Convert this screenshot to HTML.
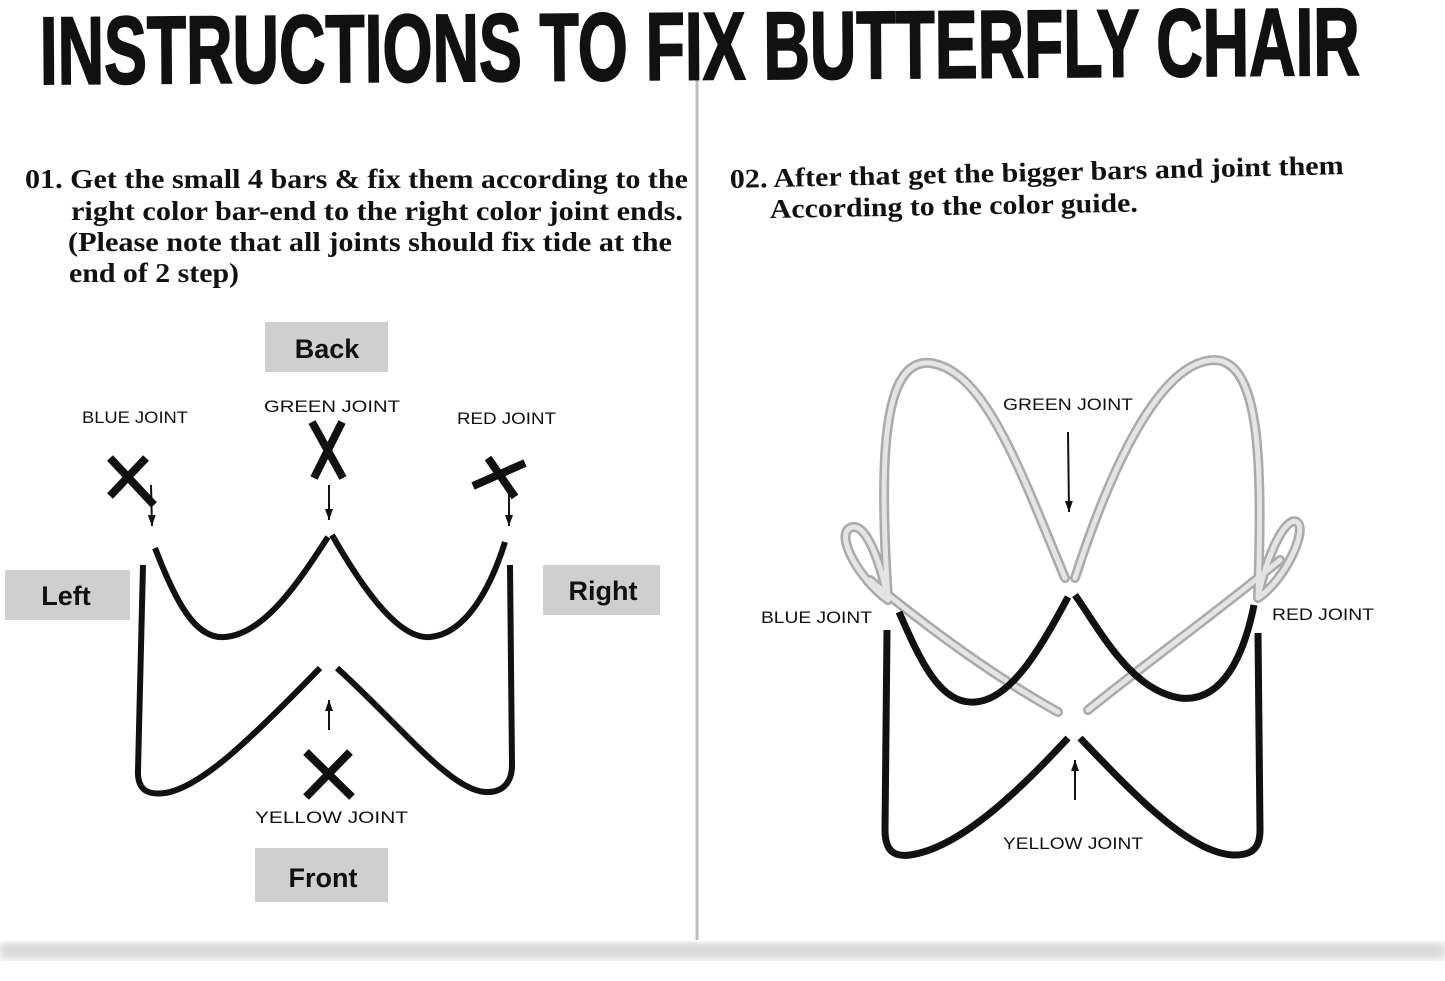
<!DOCTYPE html>
<html><head><meta charset="utf-8"><style>
html,body{margin:0;padding:0;background:#fff;}
svg{display:block;}
.t{font-family:"Liberation Serif",serif;font-weight:bold;font-size:27px;fill:#111;}
.j{font-family:"Liberation Sans",sans-serif;font-size:17px;fill:#111;}
.b{font-family:"Liberation Sans",sans-serif;font-weight:bold;font-size:27px;fill:#111;}
</style></head><body>
<svg width="1445" height="981" viewBox="0 0 1445 981" xmlns="http://www.w3.org/2000/svg">
<defs>
<marker id="ah" markerWidth="12" markerHeight="10" refX="11" refY="4" orient="auto" markerUnits="userSpaceOnUse"><path d="M0,0 L11,4 L0,8 Z" fill="#111"/></marker>
<filter id="bl"><feGaussianBlur stdDeviation="4"/></filter>
</defs>
<rect width="1445" height="981" fill="#fff"/>
<line x1="697" y1="60" x2="697" y2="940" stroke="#bbb" stroke-width="3"/>
<g transform="translate(40,84) rotate(-0.4)">
<text x="0" y="0" font-family="Liberation Sans Narrow, Liberation Sans, sans-serif" font-weight="bold" font-size="96" textLength="1320" lengthAdjust="spacingAndGlyphs" fill="#111" stroke="#111" stroke-width="2">INSTRUCTIONS TO FIX BUTTERFLY CHAIR</text>
</g>
<text class="t" x="25" y="188" textLength="663" lengthAdjust="spacingAndGlyphs">01. Get the small 4 bars &amp; fix them according to the</text>
<text class="t" x="71" y="220" textLength="612" lengthAdjust="spacingAndGlyphs">right color bar-end to the right color joint ends.</text>
<text class="t" x="68" y="251" textLength="604" lengthAdjust="spacingAndGlyphs">(Please note that all joints should fix tide at the</text>
<text class="t" x="69" y="282" textLength="170" lengthAdjust="spacingAndGlyphs">end of 2 step)</text>
<g transform="rotate(-1.3 730 188)">
<text class="t" x="730" y="188" textLength="614" lengthAdjust="spacingAndGlyphs">02. After that get the bigger bars and joint them</text>
</g>
<g transform="rotate(-1 770 218)">
<text class="t" x="770" y="218" textLength="368" lengthAdjust="spacingAndGlyphs">According to the color guide.</text>
</g>

<rect x="265" y="322" width="123" height="50" fill="#cfcfcf"/>
<text class="b" x="327" y="358" text-anchor="middle">Back</text>
<rect x="5" y="570" width="125" height="50" fill="#cfcfcf"/>
<text class="b" x="66" y="605" text-anchor="middle">Left</text>
<rect x="543" y="565" width="117" height="50" fill="#cfcfcf"/>
<text class="b" x="603" y="600" text-anchor="middle">Right</text>
<rect x="255" y="848" width="133" height="54" fill="#cfcfcf"/>
<text class="b" x="323" y="887" text-anchor="middle">Front</text>

<text class="j" x="82" y="423" textLength="106" lengthAdjust="spacingAndGlyphs">BLUE JOINT</text>
<text class="j" x="264" y="412" textLength="136" lengthAdjust="spacingAndGlyphs">GREEN  JOINT</text>
<text class="j" x="457" y="424" textLength="99" lengthAdjust="spacingAndGlyphs">RED JOINT</text>
<text class="j" x="255" y="823" textLength="153" lengthAdjust="spacingAndGlyphs">YELLOW  JOINT</text>

<g stroke="#111" stroke-width="8" fill="none">
<path d="M110,458 L154,505 M110,496 L146,458"/>
<path d="M312,422 L343,478 M314,478 L342,422"/>
<path d="M473,486 L525,463 M488,458 L515,497"/>
<path d="M306,752 L352,797 M306,797 L350,752"/>
</g>
<g stroke="#111" stroke-width="2">
<line x1="151" y1="485" x2="152" y2="526" marker-end="url(#ah)"/>
<line x1="329" y1="485" x2="329" y2="520" marker-end="url(#ah)"/>
<line x1="509" y1="485" x2="509" y2="526" marker-end="url(#ah)"/>
<line x1="329" y1="730" x2="329" y2="700" marker-end="url(#ah)"/>
</g>
<g stroke="#111" stroke-width="6" fill="none">
<path d="M155,548 C175,600 195,640 225,637 C265,634 300,580 328,537"/>
<path d="M332,535 C355,575 395,640 430,637 C465,634 490,590 505,542"/>
<path d="M143,565 L138,770 C137,792 150,795 165,793 C200,788 250,740 320,668"/>
<path d="M337,668 C400,725 450,790 485,792 C505,793 512,780 512,765 L510,565"/>
</g>

<text class="j" x="1003" y="410" textLength="130" lengthAdjust="spacingAndGlyphs">GREEN  JOINT</text>
<text class="j" x="761" y="623" textLength="111" lengthAdjust="spacingAndGlyphs">BLUE JOINT</text>
<text class="j" x="1272" y="620" textLength="102" lengthAdjust="spacingAndGlyphs">RED JOINT</text>
<text class="j" x="1003" y="849" textLength="140" lengthAdjust="spacingAndGlyphs">YELLOW  JOINT</text>
<g stroke="#111" stroke-width="2">
<line x1="1068" y1="432" x2="1069" y2="512" marker-end="url(#ah)"/>
<line x1="1075" y1="800" x2="1075" y2="760" marker-end="url(#ah)"/>
</g>
<g fill="none" stroke-linecap="round">
<g stroke="#aaa" stroke-width="10">
<path d="M1065,578 C1020,470 985,370 930,363 C880,358 880,470 888,600 M888,600 C880,560 865,520 850,528 C835,536 860,580 888,600 M870,580 C930,630 1000,680 1058,712"/>
<path d="M1075,578 C1110,470 1160,360 1215,360 C1262,362 1262,470 1258,598 M1258,598 C1265,560 1285,515 1297,522 C1308,530 1285,580 1258,598 M1280,560 C1220,610 1150,660 1088,710"/>
</g>
<g stroke="#e4e4e4" stroke-width="5">
<path d="M1065,578 C1020,470 985,370 930,363 C880,358 880,470 888,600 M888,600 C880,560 865,520 850,528 C835,536 860,580 888,600 M870,580 C930,630 1000,680 1058,712"/>
<path d="M1075,578 C1110,470 1160,360 1215,360 C1262,362 1262,470 1258,598 M1258,598 C1265,560 1285,515 1297,522 C1308,530 1285,580 1258,598 M1280,560 C1220,610 1150,660 1088,710"/>
</g>
</g>
<g stroke="#111" stroke-width="7" fill="none">
<path d="M899,612 C920,660 940,705 975,702 C1010,700 1040,650 1068,597"/>
<path d="M1075,595 C1100,630 1130,690 1180,698 C1225,703 1245,650 1254,605"/>
<path d="M887,630 L885,830 C885,852 895,857 910,855 C960,848 1020,790 1068,738"/>
<path d="M1080,738 C1130,790 1190,855 1235,855 C1255,855 1260,845 1260,830 L1258,633"/>
</g>
<rect x="0" y="943" width="1445" height="16" fill="#d8d8d8" filter="url(#bl)"/>
</svg>
</body></html>
